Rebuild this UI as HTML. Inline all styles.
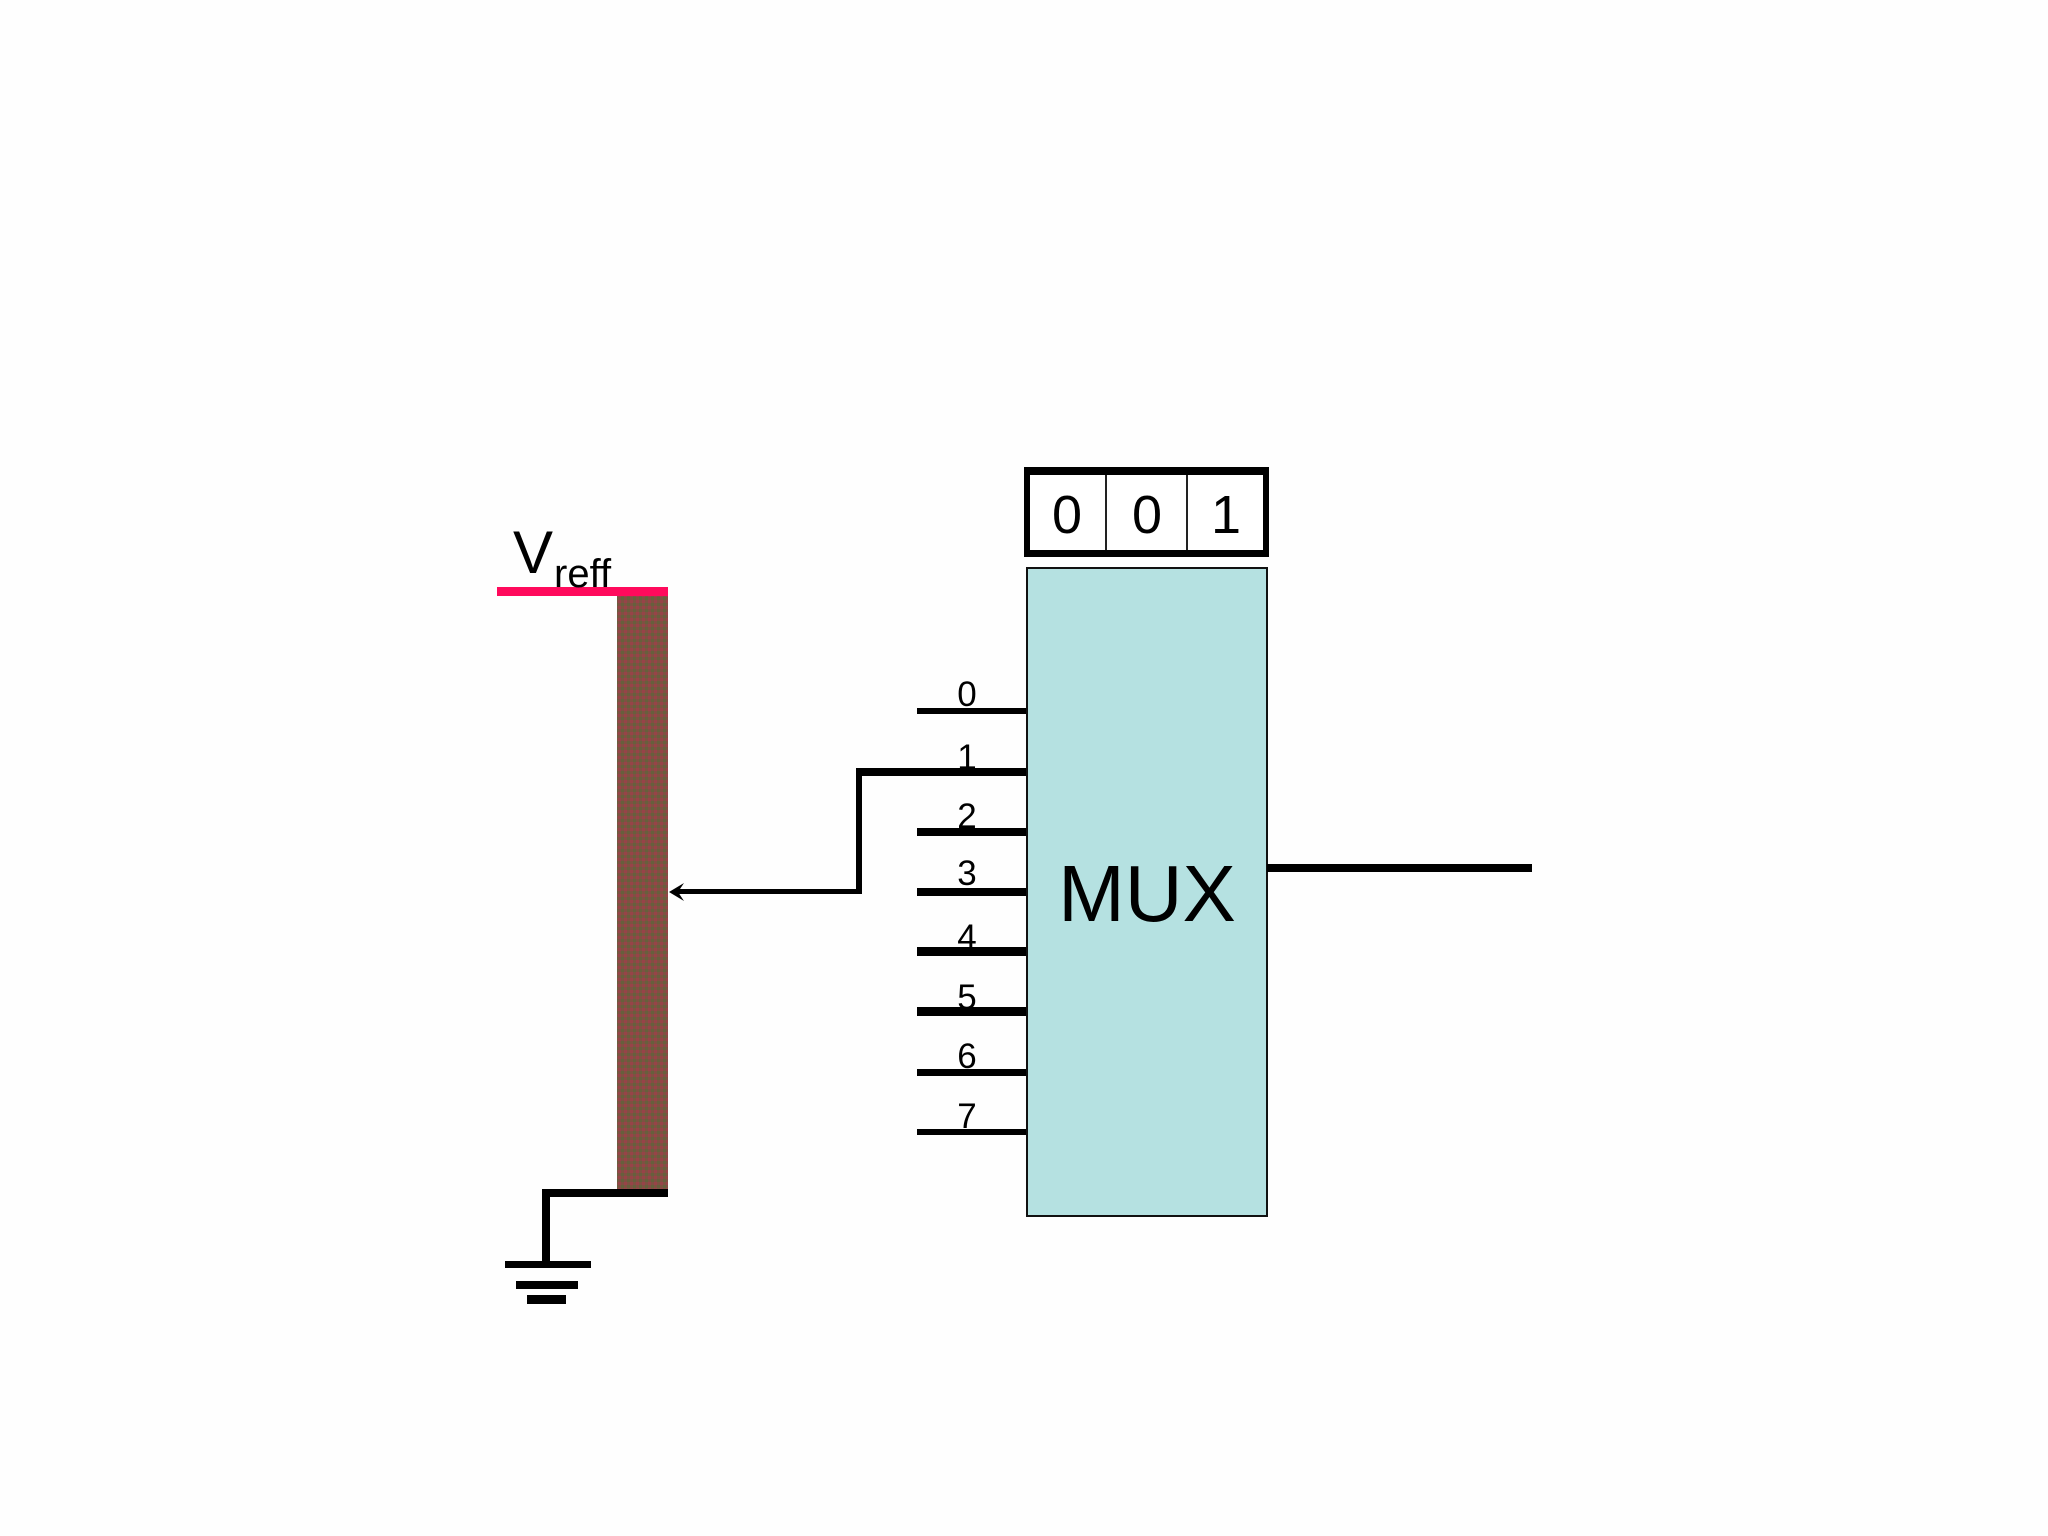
<!DOCTYPE html>
<html>
<head>
<meta charset="utf-8">
<style>
html,body{margin:0;padding:0;background:#fefefe;width:2048px;height:1536px;overflow:hidden}
svg{display:block}
text{font-family:"Liberation Sans",Arial,sans-serif;fill:#000}
</style>
</head>
<body>
<svg width="2048" height="1536" viewBox="0 0 2048 1536" xmlns="http://www.w3.org/2000/svg">
<defs>
<pattern id="d" width="6" height="6" patternUnits="userSpaceOnUse">
<rect width="6" height="6" fill="#7f5142"/>
<rect x="0" y="0" width="3" height="3" fill="#984348"/>
<rect x="3" y="3" width="3" height="3" fill="#66603c"/>
</pattern>
</defs>
<rect width="2048" height="1536" fill="#fefefe"/>

<!-- resistor ladder -->
<rect x="617" y="596" width="51" height="594" fill="url(#d)"/>
<rect x="497" y="587" width="171" height="9" fill="#ff0a5c"/>
<text x="513" y="573" font-size="60">V</text>
<text x="554" y="587" font-size="40">reff</text>

<!-- ground -->
<rect x="542" y="1189" width="126" height="8" fill="#000"/>
<rect x="542" y="1189" width="8" height="75" fill="#000"/>
<rect x="505" y="1261" width="86" height="7" fill="#000"/>
<rect x="516" y="1281" width="62" height="8" fill="#000"/>
<rect x="527" y="1295" width="39" height="9" fill="#000"/>

<!-- input lines -->
<rect x="917" y="708" width="111" height="6" fill="#000"/>
<rect x="856" y="768" width="172" height="8" fill="#000"/>
<rect x="917" y="828" width="111" height="8" fill="#000"/>
<rect x="917" y="888" width="111" height="8" fill="#000"/>
<rect x="917" y="947" width="111" height="9" fill="#000"/>
<rect x="917" y="1007" width="111" height="9" fill="#000"/>
<rect x="917" y="1069" width="111" height="7" fill="#000"/>
<rect x="917" y="1129" width="111" height="6" fill="#000"/>

<!-- selected wire to ladder -->
<rect x="856" y="768" width="6" height="126" fill="#000"/>
<rect x="676" y="889" width="186" height="5" fill="#000"/>
<path d="M669 892 L684 883 L678 892 L684 901 Z" fill="#000"/>

<!-- input labels -->
<g font-size="35" text-anchor="middle">
<text x="967" y="706">0</text>
<text x="967" y="769">1</text>
<text x="967" y="828">2</text>
<text x="967" y="885">3</text>
<text x="967" y="949">4</text>
<text x="967" y="1009">5</text>
<text x="967" y="1068">6</text>
<text x="967" y="1128">7</text>
</g>

<!-- MUX -->
<rect x="1027" y="568" width="240" height="648" fill="#b5e1e1" stroke="#111" stroke-width="2"/>
<text x="1147" y="921" font-size="80" text-anchor="middle">MUX</text>
<rect x="1267" y="864" width="265" height="8" fill="#000"/>

<!-- select register -->
<rect x="1024" y="467" width="245" height="90" fill="#000"/>
<rect x="1030" y="475" width="233" height="75" fill="#fff"/>
<rect x="1105" y="475" width="2" height="75" fill="#222"/>
<rect x="1186" y="475" width="2" height="75" fill="#222"/>
<g font-size="54" text-anchor="middle">
<text x="1067" y="533">0</text>
<text x="1147" y="533">0</text>
<text x="1226" y="533">1</text>
</g>
</svg>
</body>
</html>
